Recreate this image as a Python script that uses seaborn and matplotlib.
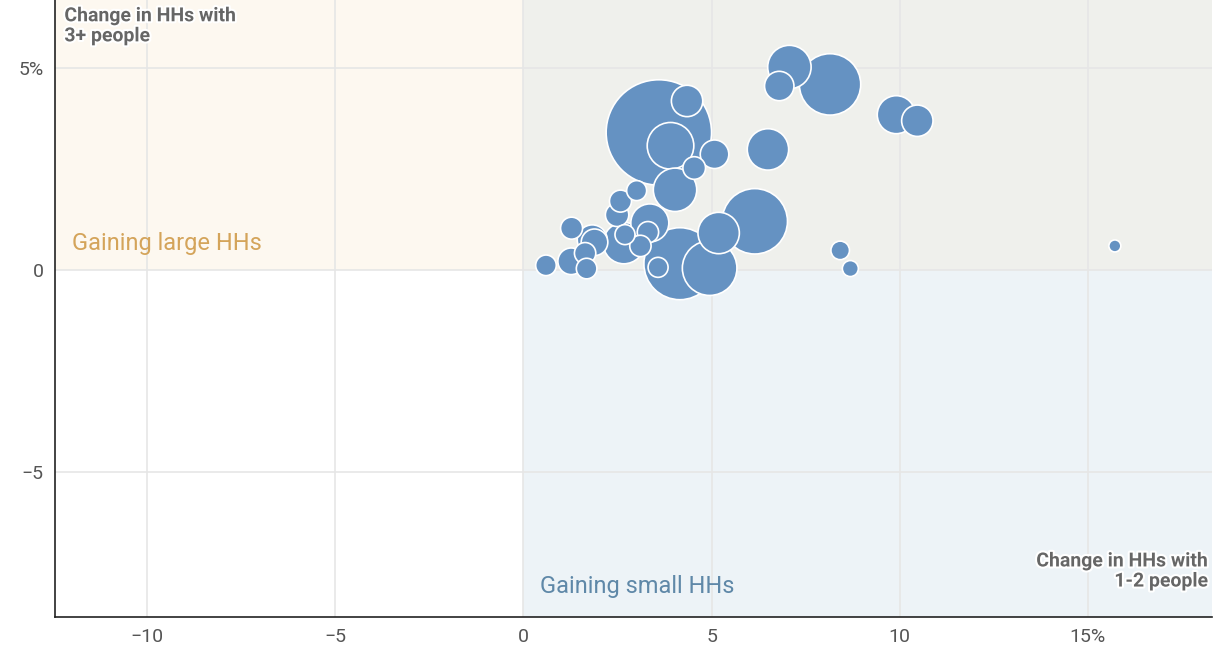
import matplotlib
matplotlib.use("Agg")
import matplotlib.pyplot as plt
import matplotlib.patheffects as pe
import seaborn as sns
import pandas as pd

x_change = [3.60, 4.16, 6.15, 8.15, 4.95, 3.91, 4.03, 7.07, 6.50, 2.67, 5.19, 3.36, 9.91,
            4.35, 10.47, 1.83, 6.80, 5.08, 1.89, 2.49, 5.54 - 1.00, 8.42 - 0.0, 1.27, 1.28, 2.58,
            3.31, 3.11, 1.64, 1.68, 0.60, 2.70, 3.01, 3.58, 8.69, 15.72]
y_change = [3.40, 0.15, 1.20, 4.59, 0.04, 3.07, 1.98, 5.02, 2.98, 0.66, 0.91, 1.16, 3.84,
            4.18, 3.69, 0.74, 4.55, 2.86, 0.68, 1.36, 2.52, 0.48, 0.21, 1.03, 1.70,
            0.93, 0.59, 0.41, 0.03, 0.11, 0.87, 1.96, 0.06, 0.03, 0.59]
households = [2777, 1296, 1069, 942, 745, 543, 471, 471, 428, 428, 428, 361, 361,
              246, 246, 225, 216, 204, 177, 137, 128, 86, 177, 121, 121,
              114, 114, 114, 106, 106, 100, 100, 100, 64, 36]

df = pd.DataFrame({"x": x_change, "y": y_change, "hh": households})

sns.set_theme(style="white")
plt.rcParams["font.family"] = ["Roboto", "DejaVu Sans"]

fig = plt.figure(figsize=(12.3, 6.7), dpi=100)
ax = fig.add_axes([0.0447, 0.079, 0.9406, 0.921])
xmin, xmax, ymin, ymax = -12.45, 18.3, -8.6, 6.68
ax.set_xlim(xmin, xmax)
ax.set_ylim(ymin, ymax)

ax.axvspan(xmin, 0, ymin=(0 - ymin) / (ymax - ymin), ymax=1, color="#fdf8f0", zorder=0, lw=0)
ax.axvspan(0, xmax, ymin=(0 - ymin) / (ymax - ymin), ymax=1, color="#eff0ec", zorder=0, lw=0)
ax.axvspan(0, xmax, ymin=0, ymax=(0 - ymin) / (ymax - ymin), color="#edf3f7", zorder=0, lw=0)

for v in [-10, -5, 0, 5, 10, 15]:
    ax.axvline(v, color="#e6e6e6", lw=1.2, zorder=0.5)
for v in [-5, 0, 5]:
    ax.axhline(v, color="#e6e6e6", lw=1.2, zorder=0.5)

k = (2 * 0.72) ** 2
sns.scatterplot(data=df, x="x", y="y", size="hh",
                sizes=(k * min(households), k * max(households)),
                color="#6592c2", edgecolor="white", linewidth=1.2, alpha=1,
                legend=False, ax=ax, zorder=3)

ax.set_xticks([-10, -5, 0, 5, 10, 15])
ax.set_xticklabels(["−10", "−5", "0", "5", "10", "15%"])
ax.set_yticks([-5, 0, 5])
ax.set_yticklabels(["−5", "0", "5%"])
ax.tick_params(axis="both", labelsize=14, colors="#555555", length=0, pad=8)
ax.set_xlabel("")
ax.set_ylabel("")
for s in ["top", "right"]:
    ax.spines[s].set_visible(False)
for s in ["left", "bottom"]:
    ax.spines[s].set_color("#222222")
    ax.spines[s].set_linewidth(1.2)

stroke = [pe.withStroke(linewidth=3, foreground="white")]
ax.text(-12.2, 6.5, "Change in HHs with\n3+ people", fontsize=14, fontweight="bold",
        color="#666666", ha="left", va="top", linespacing=1.15, path_effects=stroke, zorder=5)
ax.text(18.2, -7.0, "Change in HHs with\n1-2 people", fontsize=14, fontweight="bold",
        color="#666666", ha="right", va="top", linespacing=1.15, multialignment="right",
        path_effects=stroke, zorder=5)
ax.text(-12.0, 0.65, "Gaining large HHs", fontsize=17, color="#d4a45a", ha="left", va="center", zorder=5)
ax.text(0.45, -7.85, "Gaining small HHs", fontsize=17, color="#5f88a8", ha="left", va="center", zorder=5)

fig.savefig("out.png", dpi=100)
